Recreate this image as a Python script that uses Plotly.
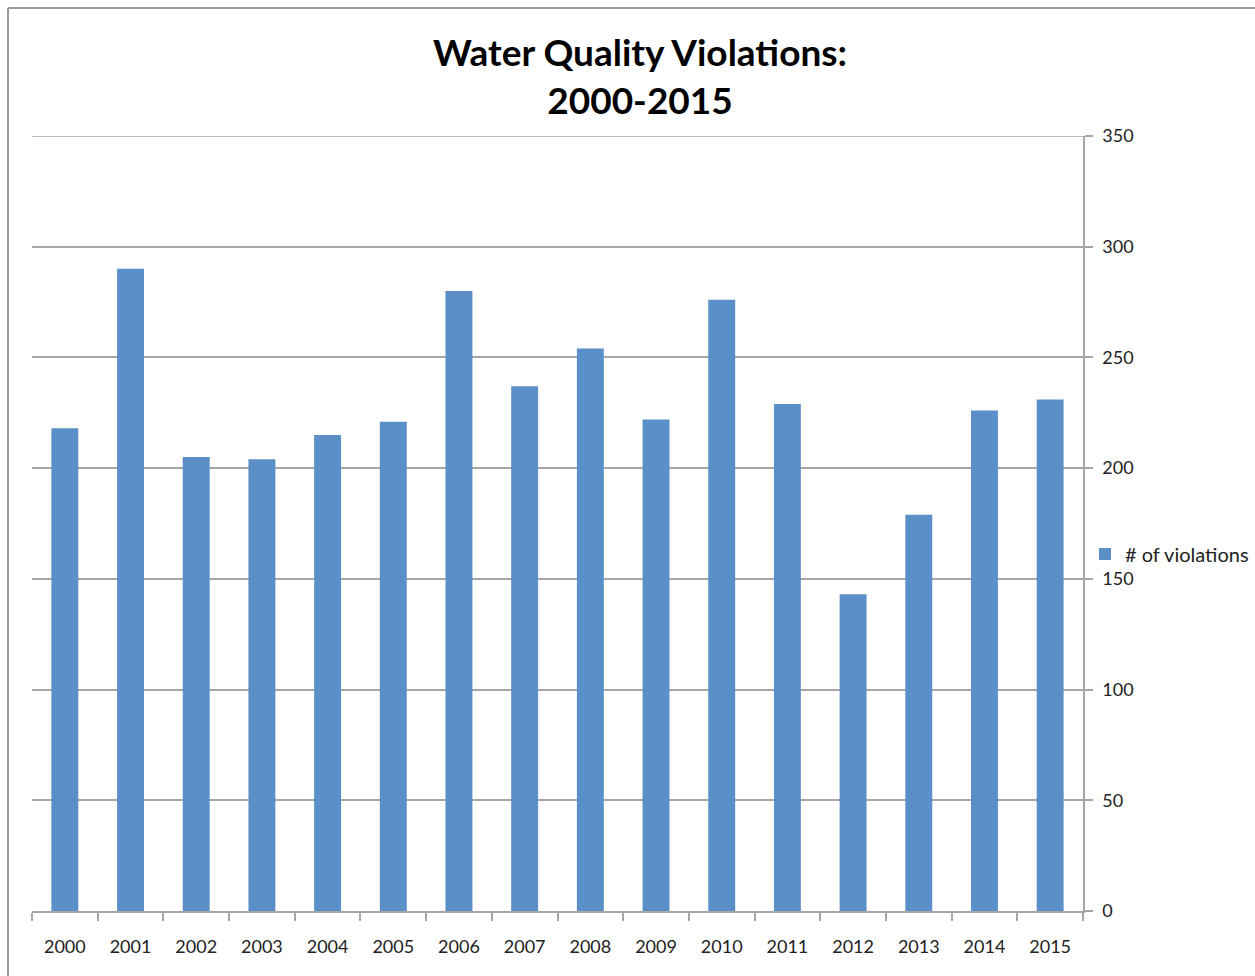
import plotly.graph_objects as go

years = ["2000", "2001", "2002", "2003", "2004", "2005", "2006", "2007",
         "2008", "2009", "2010", "2011", "2012", "2013", "2014", "2015"]
violations = [218, 290, 205, 204, 215, 221, 280, 237, 254, 222, 276, 229, 143, 179, 226, 231]
y_ticks = [0, 50, 100, 150, 200, 250, 300, 350]

W, H = 1255, 976
L, R, T, B = 32, 172, 136, 65
pw, ph = W - L - R, H - T - B

fig = go.Figure()
fig.add_trace(go.Bar(
    x=years, y=violations, name="# of violations",
    marker=dict(color="#5b8fc7", line=dict(width=0)),
    showlegend=True,
))

font = "Lato, 'Open Sans', sans-serif"
grid = "#a6a6a6"
fig.update_layout(
    width=W, height=H,
    margin=dict(l=L, r=R, t=T, b=B, autoexpand=False),
    paper_bgcolor="white", plot_bgcolor="white",
    bargap=0.59,
    title=dict(text="<b>Water Quality Violations:<br>2000-2015</b>",
               x=640 / W, xanchor="center", y=1 - 66 / H, yanchor="middle",
               font=dict(family=font, size=37, color="black")),
    font=dict(family=font, size=18, color="#222"),
    showlegend=True,
    legend=dict(x=(1085 - L) / pw, y=(911 - 554) / ph, xanchor="left", yanchor="middle",
                font=dict(family=font, size=20, color="#222"),
                bgcolor="rgba(0,0,0,0)", itemwidth=30, tracegroupgap=0),
    xaxis=dict(type="category", showline=True, linecolor=grid, linewidth=1.5,
               ticks="outside", ticklen=8, tickcolor=grid, tickwidth=1.5,
               tickson="boundaries", showgrid=False, zeroline=False,
               ticklabelstandoff=19,
               tickfont=dict(family=font, size=18, color="#222")),
    yaxis=dict(side="right", range=[0, 350], tickvals=y_ticks,
               showline=True, linecolor=grid, linewidth=1.5,
               ticks="outside", ticklen=8, tickcolor=grid, tickwidth=1.5,
               showgrid=True, gridcolor=grid, gridwidth=1.5, zeroline=False,
               ticklabelstandoff=6,
               tickfont=dict(family=font, size=18, color="#222")),
    shapes=[
        dict(type="line", xref="paper", yref="y", x0=0, x1=1, y0=350, y1=350,
             line=dict(color=grid, width=1.5)),
        dict(type="line", xref="paper", yref="paper",
             x0=(8 - L) / pw, x1=(W + 5 - L) / pw, y0=1 + (T - 8) / ph, y1=1 + (T - 8) / ph,
             line=dict(color="#9a9a9a", width=2)),
        dict(type="line", xref="paper", yref="paper",
             x0=(8 - L) / pw, x1=(8 - L) / pw, y0=1 + (T - 8) / ph, y1=-(B + 5) / ph,
             line=dict(color="#9a9a9a", width=2)),
    ],
)

fig.write_html("out.html", config={"displayModeBar": False},
               post_script="document.body.style.margin='0';")
